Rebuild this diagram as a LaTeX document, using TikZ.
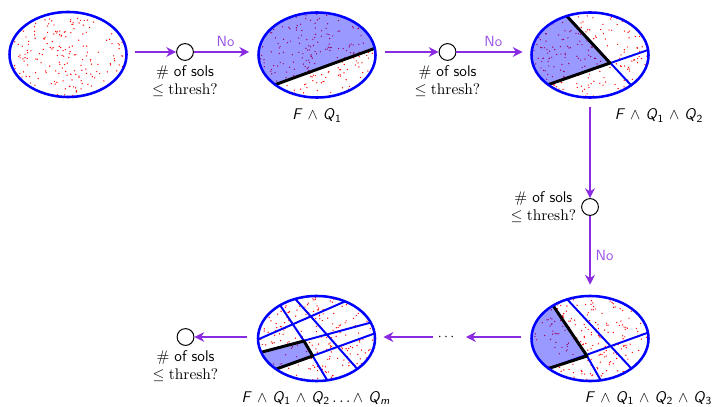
\documentclass[tikz,border=0pt]{standalone}
\usepackage{tikz}
\usetikzlibrary{arrows.meta,calc,positioning,shapes.geometric}

\definecolor{flowc}{RGB}{138,43,226}
\definecolor{noc}{RGB}{152,82,232}

\newcommand{\Qs}[1]{\textit{Q}\textsubscript{#1}}
% solutions scattered at random in the cell around #1
\newcommand{\soldots}[2]{%
	\pgfmathsetseed{#2}%
	\foreach \k in {1,...,180}{%
		\pgfmathsetmacro{\rr}{0.98*sqrt(rnd)}%
		\pgfmathsetmacro{\aa}{360*rnd}%
		\fill[sol] ($(#1)+({\rx*\rr*cos(\aa)},{\ry*\rr*sin(\aa)})$) circle (0.5pt);
	}}

\begin{document}
\begin{tikzpicture}[
	x=0.025cm, y=-0.025cm,
	solspace/.style={ellipse, draw=blue, line width=1.8pt, inner sep=0pt, minimum width=2.925cm, minimum height=2.125cm},
	cut/.style={fill=blue, fill opacity=0.4},
	sol/.style={red},
	chord/.style={blue, line width=1.4pt, shorten <=-6pt, shorten >=-6pt},
	bound/.style={black, line width=2.1pt, line join=round, shorten <=-6pt, shorten >=-6pt},
	flow/.style={-{Stealth[length=7pt,width=7pt]}, line width=1.3pt, flowc},
	check/.style={circle, draw=black, fill=white, line width=0.7pt, inner sep=0pt, minimum size=0.42cm},
	lab/.style={font=\sffamily\fontsize{11}{12.5}\selectfont, align=center},
	answer/.style={font=\sffamily\fontsize{10.5}{12}\selectfont, noc},
	]
	
	\def\rx{58.5}         % half axes of a cell (px)
	\def\ry{42.5}
	\def\rxc{1.4625cm}
	\def\ryc{1.0625cm}
	
	\useasboundingbox (0,0) rectangle (720,406);
	
	%%=== F: the whole solution space ===
	\coordinate (c0) at (68,54.5);
	\begin{scope}
		\clip (c0) ellipse [x radius=\rxc, y radius=\ryc];
		\soldots{c0}{11}
	\end{scope}
	\node[solspace] (s0) at (c0) {};
	
	%%=== F and Q1 ===
	\coordinate (c1) at (317,55);
	\begin{scope}
		\clip (c1) ellipse [x radius=\rxc, y radius=\ryc];
		\soldots{c1}{23}
		\fill[cut] (250,93.8) -- (390,42.8) -- (390,0) -- (250,0) -- cycle;
		\draw[bound] (277,84) -- (373,49);
	\end{scope}
	\node[solspace] (s1) at (c1) {};
	\node[lab, anchor=base] (l1) at (317,120) {\textit{F} $\wedge$ \Qs{1}};
	
	%%=== F and Q1 and Q2 ===
	\coordinate (c2) at (590,55);
	\begin{scope}
		\clip (c2) ellipse [x radius=\rxc, y radius=\ryc];
		\soldots{c2}{37}
		\fill[cut] (544,-9) -- (610,63) -- (520,94.5) -- (520,-9) -- cycle;
		\draw[chord] (564,13) -- (629,83);
		\draw[chord] (550,84) -- (648,50);
		\draw[bound] (564,13) -- (610,63) -- (550,84);
	\end{scope}
	\node[solspace] (s2) at (c2) {};
	\node[lab, anchor=base] (l2) at (659,120) {\textit{F} $\wedge$ \Qs{1} $\wedge$ \Qs{2}};
	
	%%=== F and Q1 and Q2 and Q3 ===
	\coordinate (c3) at (590,338.5);
	\begin{scope}
		\clip (c3) ellipse [x radius=\rxc, y radius=\ryc];
		\soldots{c3}{41}
		\fill[cut] (538,283) -- (587,356) -- (520,378) -- (520,283) -- cycle;
		\draw[chord] (550,368) -- (647,333);
		\draw[chord] (552,304) -- (587,356) -- (600,379);
		\draw[chord] (565,297) -- (630,367);
		\draw[bound] (552,304) -- (587,356) -- (550,368);
	\end{scope}
	\node[solspace] (s3) at (c3) {};
	\node[lab, anchor=base east] (l3) at (717,402) {\textit{F} $\wedge$ \Qs{1} $\wedge$ \Qs{2} $\wedge$ \Qs{3}};
	
	%%=== F and Q1 ... and Qm ===
	\coordinate (c4) at (316.5,338.5);
	\begin{scope}
		\clip (c4) ellipse [x radius=\rxc, y radius=\ryc];
		\soldots{c4}{53}
		\fill[cut] (250,355.2) -- (304,341) -- (312.7,356) -- (260,374.9) -- cycle;
		\draw[chord] (258.3,339.3) -- (348.3,300);
		\draw[chord] (263.3,351.7) -- (374,321.7);
		\draw[chord] (278.3,368.3) -- (375,333.3);
		\draw[chord] (279.3,304) -- (304,341) -- (312.7,356) -- (326.7,379.3);
		\draw[chord] (293.3,296.7) -- (356.7,368.3);
		\draw[bound] (263.3,351.7) -- (304,341) -- (312.7,356) -- (278.3,368.3);
	\end{scope}
	\node[solspace] (s4) at (c4) {};
	\node[lab, anchor=base] (l4) at (316,402) {\textit{F} $\wedge$ \Qs{1} $\wedge$ \Qs{2}\,$\ldots$\,$\wedge$ \Qs{\textit{m}}};
	
	%%=== checks and flow ===
	\node[check] (q1) at (185,52) {};
	\node[check] (q2) at (447.5,52) {};
	\node[check] (q3) at (590,207) {};
	\node[check] (q4) at (185.5,337) {};
	\node (more) at (446,337) {$\cdots$};
	
	\node[lab, below=0pt of q1] (t1) {$\#$ of sols\\$\leq\mathrm{thresh}?$};
	\node[lab, below=0pt of q2] (t2) {$\#$ of sols\\$\leq\mathrm{thresh}?$};
	\node[lab, left=0pt of q3] (t3) {$\#$ of sols\\$\leq\mathrm{thresh}?$};
	\node[lab, below=0pt of q4] (t4) {$\#$ of sols\\$\leq\mathrm{thresh}?$};
	
	\draw[flow, shorten <=0.17cm] (s0.east |- q1) -- (q1);
	\draw[flow, shorten >=0.2cm] (q1) -- (s1.west |- q1) node[answer, midway, above] {No};
	\draw[flow, shorten <=0.2cm] (s1.east |- q2) -- (q2);
	\draw[flow, shorten >=0.19cm] (q2) -- (s2.west |- q2) node[answer, midway, above] {No};
	\draw[flow, shorten <=0.2cm] (s2.south) -- (q3);
	\draw[flow, shorten >=0.25cm] (q3) -- (s3.north) node[answer, midway, right] {No};
	\draw[flow, shorten <=0.22cm, shorten >=0.17cm] (s3.west |- more) -- (more);
	\draw[flow, shorten >=0.18cm] (more) -- (s4.east |- more);
	\draw[flow, shorten <=0.25cm] (s4.west |- q4) -- (q4);
	
\end{tikzpicture}
\end{document}
